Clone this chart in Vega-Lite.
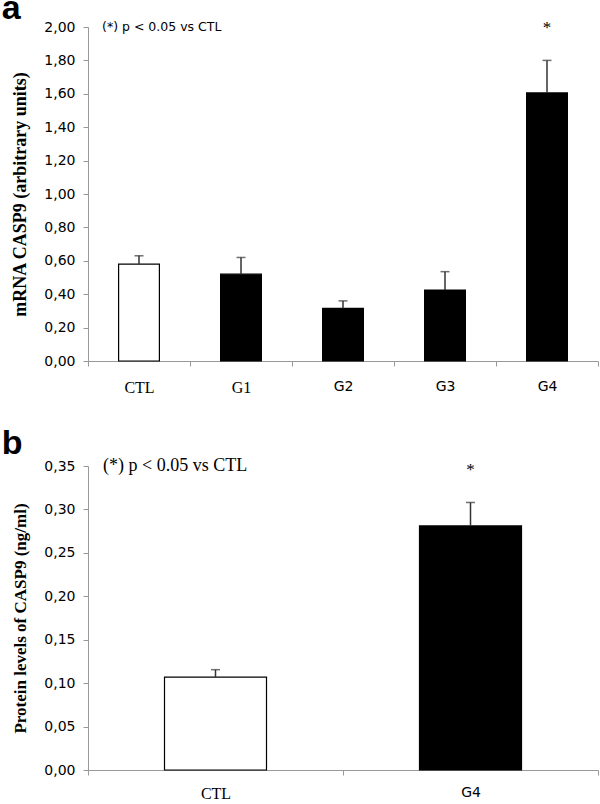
{
  "$schema": "https://vega.github.io/schema/vega-lite/v6.json",
  "background": "white",
  "padding": {"left": 1, "top": -8, "right": 5, "bottom": 0},
  "spacing": 32,
  "config": {
    "view": {"stroke": null},
    "axis": {"grid": false, "domainColor": "#999999", "tickColor": "#999999", "labelColor": "#000000", "titleColor": "#000000", "labelOverlap": false},
    "axisY": {"labelOverlap": false}
  },
  "vconcat": [
    {
      "width": 510,
      "height": 334,
      "title": {"text": "a", "anchor": "start", "frame": "bounds", "font": "Liberation Sans", "fontSize": 34, "fontWeight": "bold", "offset": -7, "dx": -10, "color": "#000000"},
      "data": {"values": [
        {"group": "CTL", "mean": 0.58, "upper": 0.63, "sig": false},
        {"group": "G1", "mean": 0.52, "upper": 0.62, "sig": false},
        {"group": "G2", "mean": 0.315, "upper": 0.36, "sig": false},
        {"group": "G3", "mean": 0.425, "upper": 0.535, "sig": false},
        {"group": "G4", "mean": 1.605, "upper": 1.8, "sig": true}
      ]},
      "encoding": {
        "x": {
          "field": "group", "type": "nominal",
          "scale": {"domain": ["CTL", "G1", "G2", "G3", "G4"], "paddingInner": 0, "paddingOuter": 0},
          "axis": {
            "title": null, "labelAngle": 0, "tickBand": "extent", "tickSize": 5, "labelPadding": 13,
            "labelFont": {"condition": {"test": "datum.value === 'CTL' || datum.value === 'G1'", "value": "Liberation Serif"}, "value": "DejaVu Sans"},
            "labelFontSize": {"condition": {"test": "datum.value === 'CTL' || datum.value === 'G1'", "value": 16}, "value": 14}
          }
        }
      },
      "layer": [
        {
          "mark": {"type": "bar", "width": {"band": 0.4}, "stroke": "#000000", "strokeWidth": 1.2},
          "encoding": {
            "y": {
              "field": "mean", "type": "quantitative",
              "scale": {"domain": [0, 2]},
              "axis": {
                "title": "mRNA CASP9 (arbitrary units)",
                "titleFont": "Liberation Serif", "titleFontWeight": "bold", "titleFontSize": 18, "titlePadding": 14,
                "values": [0, 0.2, 0.4, 0.6, 0.8, 1.0, 1.2, 1.4, 1.6, 1.8, 2.0],
                "labelOverlap": false,
                "labelExpr": "replace(format(datum.value, '.2f'), '.', ',')",
                "labelFont": "DejaVu Sans", "labelFontSize": 14, "tickSize": 5, "labelPadding": 8
              }
            },
            "color": {"condition": {"test": "datum.group === 'CTL'", "value": "#ffffff"}, "value": "#000000"}
          }
        },
        {
          "mark": {"type": "rule", "color": "#333333", "strokeWidth": 1.5},
          "encoding": {
            "y": {
              "field": "mean", "type": "quantitative",
              "axis": {
                "title": "mRNA CASP9 (arbitrary units)",
                "titleFont": "Liberation Serif", "titleFontWeight": "bold", "titleFontSize": 18, "titlePadding": 14,
                "values": [0, 0.2, 0.4, 0.6, 0.8, 1.0, 1.2, 1.4, 1.6, 1.8, 2.0],
                "labelOverlap": false,
                "labelExpr": "replace(format(datum.value, '.2f'), '.', ',')",
                "labelFont": "DejaVu Sans", "labelFontSize": 14, "tickSize": 5, "labelPadding": 8
              }
            },
            "y2": {"field": "upper"}
          }
        },
        {
          "mark": {"type": "tick", "color": "#333333", "size": 9, "thickness": 1.5},
          "encoding": {
            "y": {
              "field": "upper", "type": "quantitative",
              "axis": {
                "title": "mRNA CASP9 (arbitrary units)",
                "titleFont": "Liberation Serif", "titleFontWeight": "bold", "titleFontSize": 18, "titlePadding": 14,
                "values": [0, 0.2, 0.4, 0.6, 0.8, 1.0, 1.2, 1.4, 1.6, 1.8, 2.0],
                "labelOverlap": false,
                "labelExpr": "replace(format(datum.value, '.2f'), '.', ',')",
                "labelFont": "DejaVu Sans", "labelFontSize": 14, "tickSize": 5, "labelPadding": 8
              }
            }
          }
        },
        {
          "transform": [{"filter": "datum.sig"}],
          "mark": {"type": "text", "text": "*", "font": "Liberation Serif", "fontSize": 17, "dy": -32, "baseline": "middle", "color": "#000000"},
          "encoding": {
            "y": {
              "field": "upper", "type": "quantitative",
              "axis": {
                "title": "mRNA CASP9 (arbitrary units)",
                "titleFont": "Liberation Serif", "titleFontWeight": "bold", "titleFontSize": 18, "titlePadding": 14,
                "values": [0, 0.2, 0.4, 0.6, 0.8, 1.0, 1.2, 1.4, 1.6, 1.8, 2.0],
                "labelOverlap": false,
                "labelExpr": "replace(format(datum.value, '.2f'), '.', ',')",
                "labelFont": "DejaVu Sans", "labelFontSize": 14, "tickSize": 5, "labelPadding": 8
              }
            }
          }
        },
        {
          "data": {"values": [{"group": "CTL", "pos": 2.0, "note": "(*) p < 0.05 vs CTL"}]},
          "mark": {"type": "text", "align": "left", "baseline": "middle", "dx": 14, "font": "DejaVu Sans", "fontSize": 12.5, "color": "#000000"},
          "encoding": {
            "x": {"field": "group", "type": "nominal", "bandPosition": 0},
            "y": {
              "field": "pos", "type": "quantitative",
              "axis": {
                "title": "mRNA CASP9 (arbitrary units)",
                "titleFont": "Liberation Serif", "titleFontWeight": "bold", "titleFontSize": 18, "titlePadding": 14,
                "values": [0, 0.2, 0.4, 0.6, 0.8, 1.0, 1.2, 1.4, 1.6, 1.8, 2.0],
                "labelOverlap": false,
                "labelExpr": "replace(format(datum.value, '.2f'), '.', ',')",
                "labelFont": "DejaVu Sans", "labelFontSize": 14, "tickSize": 5, "labelPadding": 8
              }
            },
            "text": {"field": "note"}
          }
        }
      ]
    },
    {
      "width": 510,
      "height": 304,
      "title": {"text": "b", "anchor": "start", "frame": "bounds", "font": "Liberation Sans", "fontSize": 34, "fontWeight": "bold", "offset": -4, "dx": -10, "color": "#000000"},
      "data": {"values": [
        {"group": "CTL", "mean": 0.107, "upper": 0.1155, "sig": false},
        {"group": "G4", "mean": 0.281, "upper": 0.308, "sig": true}
      ]},
      "encoding": {
        "x": {
          "field": "group", "type": "nominal",
          "scale": {"domain": ["CTL", "G4"], "paddingInner": 0, "paddingOuter": 0},
          "axis": {
            "title": null, "labelAngle": 0, "tickBand": "extent", "tickSize": 5, "labelPadding": 10,
            "labelFont": {"condition": {"test": "datum.value === 'CTL'", "value": "Liberation Serif"}, "value": "DejaVu Sans"},
            "labelFontSize": {"condition": {"test": "datum.value === 'CTL'", "value": 16}, "value": 14}
          }
        }
      },
      "layer": [
        {
          "mark": {"type": "bar", "width": {"band": 0.4}, "stroke": "#000000", "strokeWidth": 1.2},
          "encoding": {
            "y": {
              "field": "mean", "type": "quantitative",
              "scale": {"domain": [0, 0.35]},
              "axis": {
                "title": "Protein levels of CASP9 (ng/ml)",
                "titleFont": "Liberation Serif", "titleFontWeight": "bold", "titleFontSize": 17, "titlePadding": 14,
                "values": [0, 0.05, 0.1, 0.15, 0.2, 0.25, 0.3, 0.35],
                "labelOverlap": false,
                "labelExpr": "replace(format(datum.value, '.2f'), '.', ',')",
                "labelFont": "DejaVu Sans", "labelFontSize": 14, "tickSize": 5, "labelPadding": 8
              }
            },
            "color": {"condition": {"test": "datum.group === 'CTL'", "value": "#ffffff"}, "value": "#000000"}
          }
        },
        {
          "mark": {"type": "rule", "color": "#333333", "strokeWidth": 1.5},
          "encoding": {"y": {"field": "mean", "type": "quantitative"}, "y2": {"field": "upper"}}
        },
        {
          "mark": {"type": "tick", "color": "#333333", "size": 9, "thickness": 1.5},
          "encoding": {"y": {"field": "upper", "type": "quantitative"}}
        },
        {
          "transform": [{"filter": "datum.sig"}],
          "mark": {"type": "text", "text": "*", "font": "Liberation Serif", "fontSize": 17, "dy": -32, "baseline": "middle", "color": "#000000"},
          "encoding": {"y": {"field": "upper", "type": "quantitative"}}
        },
        {
          "data": {"values": [{"group": "CTL", "pos": 0.35, "note": "(*) p < 0.05 vs CTL"}]},
          "mark": {"type": "text", "align": "left", "baseline": "middle", "dx": 15, "font": "Liberation Serif", "fontSize": 18, "color": "#000000"},
          "encoding": {
            "x": {"field": "group", "type": "nominal", "bandPosition": 0},
            "y": {"field": "pos", "type": "quantitative"},
            "text": {"field": "note"}
          }
        }
      ]
    }
  ]
}
